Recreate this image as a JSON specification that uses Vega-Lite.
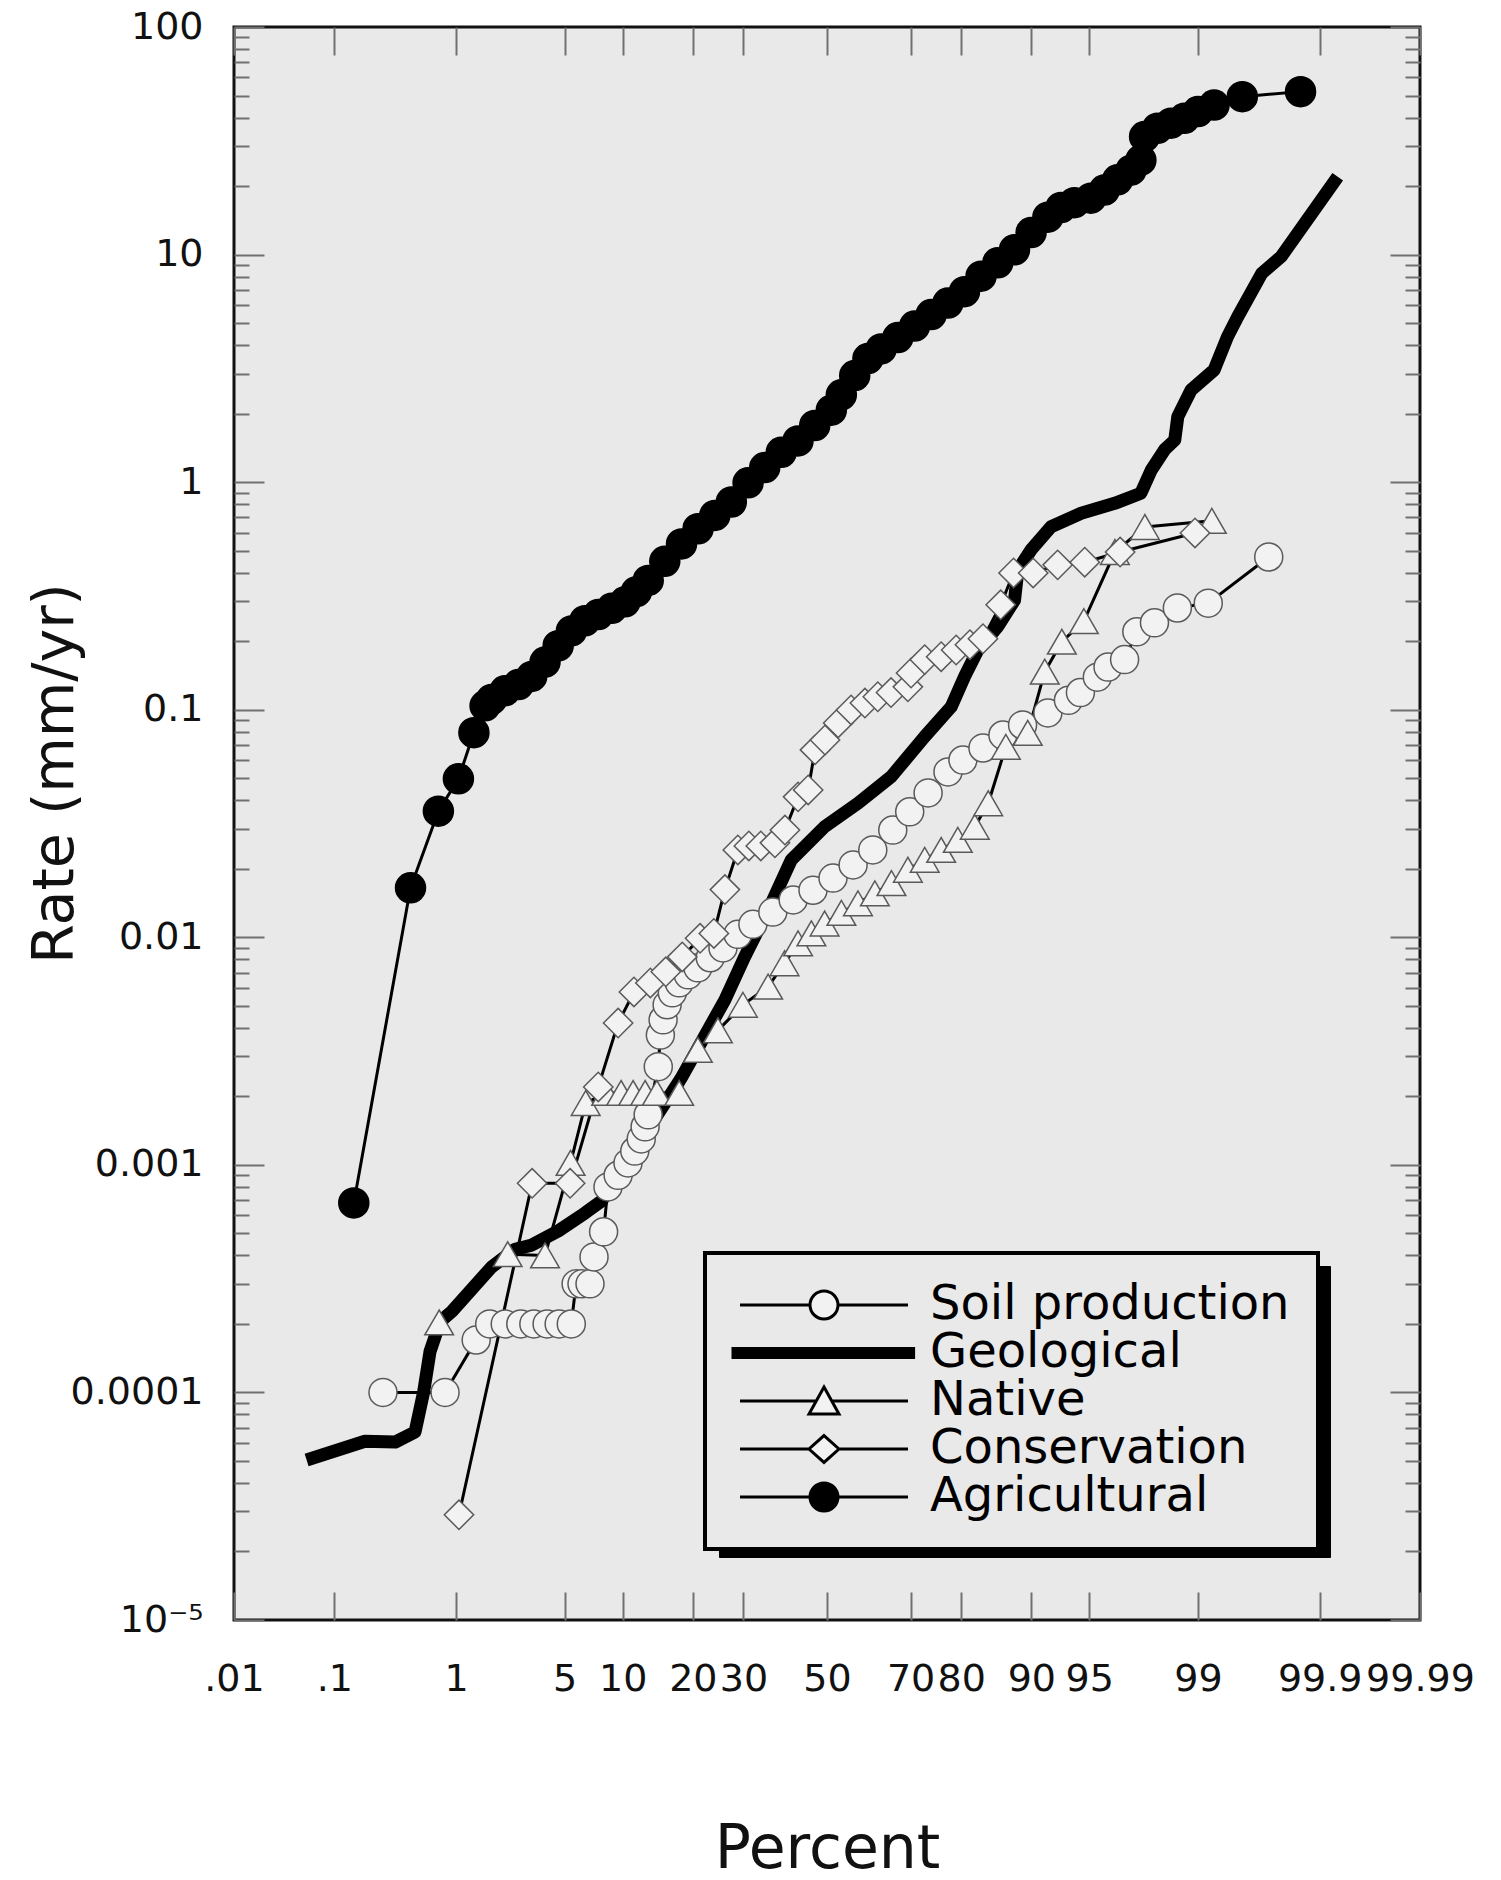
{
  "$schema": "https://vega.github.io/schema/vega-lite/v6.json",
  "width": 1186,
  "height": 1593,
  "autosize": {"type": "none"},
  "padding": {"left": 234, "top": 27, "right": 81, "bottom": 260},
  "background": "white",
  "config": {
    "view": {"fill": "#e9e9e9", "stroke": "#111111", "strokeWidth": 3},
    "font": "DejaVu Sans",
    "axis": {"grid": false, "domain": false, "labelFont": "DejaVu Sans", "titleFont": "DejaVu Sans", "labelColor": "#111111", "titleColor": "#111111", "titleFontWeight": "normal", "tickColor": "#707070", "tickWidth": 2}
  },
  "data": {
    "values": [
      {"series": "Agricultural", "percent": 0.15, "rate": 0.00068},
      {"series": "Agricultural", "percent": 0.45, "rate": 0.0165},
      {"series": "Agricultural", "percent": 0.74, "rate": 0.0358},
      {"series": "Agricultural", "percent": 1.04, "rate": 0.0497},
      {"series": "Agricultural", "percent": 1.34, "rate": 0.0793},
      {"series": "Agricultural", "percent": 1.6, "rate": 0.104},
      {"series": "Agricultural", "percent": 1.77, "rate": 0.111},
      {"series": "Agricultural", "percent": 2.17, "rate": 0.121},
      {"series": "Agricultural", "percent": 2.65, "rate": 0.129},
      {"series": "Agricultural", "percent": 3.2, "rate": 0.14},
      {"series": "Agricultural", "percent": 3.85, "rate": 0.162},
      {"series": "Agricultural", "percent": 4.59, "rate": 0.191},
      {"series": "Agricultural", "percent": 5.45, "rate": 0.222},
      {"series": "Agricultural", "percent": 6.45, "rate": 0.246},
      {"series": "Agricultural", "percent": 7.57, "rate": 0.262},
      {"series": "Agricultural", "percent": 8.85, "rate": 0.279},
      {"series": "Agricultural", "percent": 10.26, "rate": 0.298},
      {"series": "Agricultural", "percent": 11.6, "rate": 0.33},
      {"series": "Agricultural", "percent": 13.11, "rate": 0.37},
      {"series": "Agricultural", "percent": 15.45, "rate": 0.449},
      {"series": "Agricultural", "percent": 18.08, "rate": 0.535},
      {"series": "Agricultural", "percent": 20.94, "rate": 0.624},
      {"series": "Agricultural", "percent": 24.08, "rate": 0.714},
      {"series": "Agricultural", "percent": 27.43, "rate": 0.818},
      {"series": "Agricultural", "percent": 31.03, "rate": 0.993},
      {"series": "Agricultural", "percent": 34.8, "rate": 1.159},
      {"series": "Agricultural", "percent": 38.71, "rate": 1.352},
      {"series": "Agricultural", "percent": 42.78, "rate": 1.517},
      {"series": "Agricultural", "percent": 46.93, "rate": 1.774},
      {"series": "Agricultural", "percent": 51.08, "rate": 2.07},
      {"series": "Agricultural", "percent": 53.58, "rate": 2.42},
      {"series": "Agricultural", "percent": 56.9, "rate": 2.94},
      {"series": "Agricultural", "percent": 60.13, "rate": 3.49},
      {"series": "Agricultural", "percent": 63.29, "rate": 3.85},
      {"series": "Agricultural", "percent": 67.16, "rate": 4.32},
      {"series": "Agricultural", "percent": 70.86, "rate": 4.85},
      {"series": "Agricultural", "percent": 74.32, "rate": 5.45},
      {"series": "Agricultural", "percent": 77.58, "rate": 6.12},
      {"series": "Agricultural", "percent": 80.57, "rate": 6.87},
      {"series": "Agricultural", "percent": 83.3, "rate": 8.04},
      {"series": "Agricultural", "percent": 85.79, "rate": 9.2},
      {"series": "Agricultural", "percent": 88.02, "rate": 10.5},
      {"series": "Agricultural", "percent": 89.97, "rate": 12.5},
      {"series": "Agricultural", "percent": 91.7, "rate": 14.6},
      {"series": "Agricultural", "percent": 92.89, "rate": 16.1},
      {"series": "Agricultural", "percent": 93.96, "rate": 16.9},
      {"series": "Agricultural", "percent": 95.1, "rate": 17.7},
      {"series": "Agricultural", "percent": 95.9, "rate": 19.2},
      {"series": "Agricultural", "percent": 96.58, "rate": 21.3},
      {"series": "Agricultural", "percent": 97.17, "rate": 23.5},
      {"series": "Agricultural", "percent": 97.55, "rate": 26.0},
      {"series": "Agricultural", "percent": 97.68, "rate": 33.0},
      {"series": "Agricultural", "percent": 98.09, "rate": 35.9},
      {"series": "Agricultural", "percent": 98.45, "rate": 37.8},
      {"series": "Agricultural", "percent": 98.75, "rate": 39.7},
      {"series": "Agricultural", "percent": 99.0, "rate": 42.5},
      {"series": "Agricultural", "percent": 99.24, "rate": 45.4},
      {"series": "Agricultural", "percent": 99.54, "rate": 49.4},
      {"series": "Agricultural", "percent": 99.851, "rate": 52.0},

      {"series": "Geological", "percent": 0.055, "rate": 0.0000505},
      {"series": "Geological", "percent": 0.188, "rate": 0.000061},
      {"series": "Geological", "percent": 0.338, "rate": 0.0000605},
      {"series": "Geological", "percent": 0.489, "rate": 0.000067},
      {"series": "Geological", "percent": 0.57, "rate": 0.0001},
      {"series": "Geological", "percent": 0.639, "rate": 0.000151},
      {"series": "Geological", "percent": 0.764, "rate": 0.000205},
      {"series": "Geological", "percent": 0.933, "rate": 0.000227},
      {"series": "Geological", "percent": 1.766, "rate": 0.000355},
      {"series": "Geological", "percent": 2.52, "rate": 0.000426},
      {"series": "Geological", "percent": 3.204, "rate": 0.000444},
      {"series": "Geological", "percent": 4.59, "rate": 0.000512},
      {"series": "Geological", "percent": 6.45, "rate": 0.000614},
      {"series": "Geological", "percent": 7.87, "rate": 0.000694},
      {"series": "Geological", "percent": 18.0, "rate": 0.0024},
      {"series": "Geological", "percent": 26.1, "rate": 0.00531},
      {"series": "Geological", "percent": 30.3, "rate": 0.00822},
      {"series": "Geological", "percent": 36.37, "rate": 0.0141},
      {"series": "Geological", "percent": 41.15, "rate": 0.0219},
      {"series": "Geological", "percent": 49.4, "rate": 0.0306},
      {"series": "Geological", "percent": 57.7, "rate": 0.0388},
      {"series": "Geological", "percent": 65.65, "rate": 0.0508},
      {"series": "Geological", "percent": 72.99, "rate": 0.0762},
      {"series": "Geological", "percent": 78.2, "rate": 0.103},
      {"series": "Geological", "percent": 80.6, "rate": 0.14},
      {"series": "Geological", "percent": 82.79, "rate": 0.183},
      {"series": "Geological", "percent": 85.79, "rate": 0.232},
      {"series": "Geological", "percent": 88.02, "rate": 0.303},
      {"series": "Geological", "percent": 88.44, "rate": 0.411},
      {"series": "Geological", "percent": 89.97, "rate": 0.504},
      {"series": "Geological", "percent": 92.0, "rate": 0.637},
      {"series": "Geological", "percent": 94.45, "rate": 0.73},
      {"series": "Geological", "percent": 96.44, "rate": 0.807},
      {"series": "Geological", "percent": 97.55, "rate": 0.894},
      {"series": "Geological", "percent": 97.9, "rate": 1.13},
      {"series": "Geological", "percent": 98.29, "rate": 1.39},
      {"series": "Geological", "percent": 98.54, "rate": 1.53},
      {"series": "Geological", "percent": 98.61, "rate": 1.94},
      {"series": "Geological", "percent": 98.88, "rate": 2.54},
      {"series": "Geological", "percent": 99.24, "rate": 3.11},
      {"series": "Geological", "percent": 99.4, "rate": 4.36},
      {"series": "Geological", "percent": 99.5, "rate": 5.33},
      {"series": "Geological", "percent": 99.68, "rate": 8.27},
      {"series": "Geological", "percent": 99.78, "rate": 9.79},
      {"series": "Geological", "percent": 99.863, "rate": 13.7},
      {"series": "Geological", "percent": 99.932, "rate": 22.0},

      {"series": "Soil production", "percent": 0.268, "rate": 0.0001},
      {"series": "Soil production", "percent": 0.83, "rate": 0.0001},
      {"series": "Soil production", "percent": 1.39, "rate": 0.00017},
      {"series": "Soil production", "percent": 1.72, "rate": 0.0002},
      {"series": "Soil production", "percent": 2.18, "rate": 0.0002},
      {"series": "Soil production", "percent": 2.74, "rate": 0.0002},
      {"series": "Soil production", "percent": 3.3, "rate": 0.0002},
      {"series": "Soil production", "percent": 3.96, "rate": 0.0002},
      {"series": "Soil production", "percent": 4.65, "rate": 0.0002},
      {"series": "Soil production", "percent": 5.44, "rate": 0.0002},
      {"series": "Soil production", "percent": 5.78, "rate": 0.0003},
      {"series": "Soil production", "percent": 6.22, "rate": 0.0003},
      {"series": "Soil production", "percent": 6.86, "rate": 0.0003},
      {"series": "Soil production", "percent": 7.2, "rate": 0.000394},
      {"series": "Soil production", "percent": 8.06, "rate": 0.000508},
      {"series": "Soil production", "percent": 8.48, "rate": 0.0008},
      {"series": "Soil production", "percent": 9.51, "rate": 0.0009},
      {"series": "Soil production", "percent": 10.6, "rate": 0.00102},
      {"series": "Soil production", "percent": 11.4, "rate": 0.00115},
      {"series": "Soil production", "percent": 12.2, "rate": 0.0013},
      {"series": "Soil production", "percent": 12.7, "rate": 0.00147},
      {"series": "Soil production", "percent": 13.1, "rate": 0.00166},
      {"series": "Soil production", "percent": 14.5, "rate": 0.0027},
      {"series": "Soil production", "percent": 14.8, "rate": 0.00372},
      {"series": "Soil production", "percent": 15.2, "rate": 0.00434},
      {"series": "Soil production", "percent": 15.8, "rate": 0.00505},
      {"series": "Soil production", "percent": 16.6, "rate": 0.0057},
      {"series": "Soil production", "percent": 17.7, "rate": 0.00631},
      {"series": "Soil production", "percent": 19.2, "rate": 0.00684},
      {"series": "Soil production", "percent": 20.9, "rate": 0.00734},
      {"series": "Soil production", "percent": 23.2, "rate": 0.00813},
      {"series": "Soil production", "percent": 25.7, "rate": 0.00898},
      {"series": "Soil production", "percent": 28.8, "rate": 0.0103},
      {"series": "Soil production", "percent": 32.1, "rate": 0.0114},
      {"series": "Soil production", "percent": 36.7, "rate": 0.0129},
      {"series": "Soil production", "percent": 41.6, "rate": 0.0146},
      {"series": "Soil production", "percent": 46.5, "rate": 0.0161},
      {"series": "Soil production", "percent": 51.5, "rate": 0.0182},
      {"series": "Soil production", "percent": 56.5, "rate": 0.0208},
      {"series": "Soil production", "percent": 61.3, "rate": 0.0242},
      {"series": "Soil production", "percent": 66.0, "rate": 0.0296},
      {"series": "Soil production", "percent": 69.8, "rate": 0.0356},
      {"series": "Soil production", "percent": 73.7, "rate": 0.0431},
      {"series": "Soil production", "percent": 77.6, "rate": 0.0533},
      {"series": "Soil production", "percent": 80.3, "rate": 0.0601},
      {"series": "Soil production", "percent": 83.6, "rate": 0.0679},
      {"series": "Soil production", "percent": 86.5, "rate": 0.0774},
      {"series": "Soil production", "percent": 89.0, "rate": 0.0857},
      {"series": "Soil production", "percent": 91.7, "rate": 0.0968},
      {"series": "Soil production", "percent": 93.5, "rate": 0.11},
      {"series": "Soil production", "percent": 94.4, "rate": 0.119},
      {"series": "Soil production", "percent": 95.5, "rate": 0.139},
      {"series": "Soil production", "percent": 96.1, "rate": 0.154},
      {"series": "Soil production", "percent": 96.9, "rate": 0.166},
      {"series": "Soil production", "percent": 97.4, "rate": 0.22},
      {"series": "Soil production", "percent": 98.0, "rate": 0.241},
      {"series": "Soil production", "percent": 98.6, "rate": 0.28},
      {"series": "Soil production", "percent": 99.16, "rate": 0.294},
      {"series": "Soil production", "percent": 99.72, "rate": 0.469},

      {"series": "Native", "percent": 0.75, "rate": 0.000203},
      {"series": "Native", "percent": 2.26, "rate": 0.000405},
      {"series": "Native", "percent": 3.85, "rate": 0.0004},
      {"series": "Native", "percent": 5.39, "rate": 0.00102},
      {"series": "Native", "percent": 6.51, "rate": 0.00187},
      {"series": "Native", "percent": 8.3, "rate": 0.00207},
      {"series": "Native", "percent": 9.83, "rate": 0.00207},
      {"series": "Native", "percent": 11.2, "rate": 0.00207},
      {"series": "Native", "percent": 12.7, "rate": 0.00207},
      {"series": "Native", "percent": 14.3, "rate": 0.00207},
      {"series": "Native", "percent": 17.7, "rate": 0.00207},
      {"series": "Native", "percent": 20.9, "rate": 0.0032},
      {"series": "Native", "percent": 24.7, "rate": 0.0039},
      {"series": "Native", "percent": 29.9, "rate": 0.00505},
      {"series": "Native", "percent": 35.6, "rate": 0.00607},
      {"series": "Native", "percent": 39.5, "rate": 0.00769},
      {"series": "Native", "percent": 42.8, "rate": 0.0094},
      {"series": "Native", "percent": 46.1, "rate": 0.0104},
      {"series": "Native", "percent": 49.4, "rate": 0.0115},
      {"series": "Native", "percent": 53.6, "rate": 0.0128},
      {"series": "Native", "percent": 57.7, "rate": 0.0141},
      {"series": "Native", "percent": 61.8, "rate": 0.0156},
      {"series": "Native", "percent": 65.7, "rate": 0.0173},
      {"series": "Native", "percent": 69.4, "rate": 0.0198},
      {"series": "Native", "percent": 73.0, "rate": 0.0219},
      {"series": "Native", "percent": 76.3, "rate": 0.0242},
      {"series": "Native", "percent": 79.4, "rate": 0.0268},
      {"series": "Native", "percent": 82.3, "rate": 0.0306},
      {"series": "Native", "percent": 84.4, "rate": 0.0388},
      {"series": "Native", "percent": 86.9, "rate": 0.0687},
      {"series": "Native", "percent": 89.6, "rate": 0.0791},
      {"series": "Native", "percent": 91.4, "rate": 0.147},
      {"series": "Native", "percent": 92.96, "rate": 0.199},
      {"series": "Native", "percent": 94.64, "rate": 0.245},
      {"series": "Native", "percent": 96.45, "rate": 0.493},
      {"series": "Native", "percent": 97.69, "rate": 0.635},
      {"series": "Native", "percent": 99.21, "rate": 0.676},

      {"series": "Conservation", "percent": 1.05, "rate": 0.000029},
      {"series": "Conservation", "percent": 3.22, "rate": 0.00083},
      {"series": "Conservation", "percent": 5.36, "rate": 0.00083},
      {"series": "Conservation", "percent": 7.57, "rate": 0.0022},
      {"series": "Conservation", "percent": 9.51, "rate": 0.0042},
      {"series": "Conservation", "percent": 11.3, "rate": 0.00575},
      {"series": "Conservation", "percent": 13.4, "rate": 0.0063},
      {"series": "Conservation", "percent": 15.6, "rate": 0.00705},
      {"series": "Conservation", "percent": 18.2, "rate": 0.0082},
      {"series": "Conservation", "percent": 21.3, "rate": 0.0099},
      {"series": "Conservation", "percent": 23.9, "rate": 0.0104},
      {"series": "Conservation", "percent": 26.1, "rate": 0.0162},
      {"series": "Conservation", "percent": 28.8, "rate": 0.0242},
      {"series": "Conservation", "percent": 31.2, "rate": 0.0252},
      {"series": "Conservation", "percent": 33.9, "rate": 0.0252},
      {"series": "Conservation", "percent": 37.2, "rate": 0.026},
      {"series": "Conservation", "percent": 39.6, "rate": 0.0296},
      {"series": "Conservation", "percent": 42.8, "rate": 0.0414},
      {"series": "Conservation", "percent": 45.3, "rate": 0.0444},
      {"series": "Conservation", "percent": 47.0, "rate": 0.0666},
      {"series": "Conservation", "percent": 49.5, "rate": 0.0736},
      {"series": "Conservation", "percent": 52.8, "rate": 0.0875},
      {"series": "Conservation", "percent": 56.0, "rate": 0.0998},
      {"series": "Conservation", "percent": 59.4, "rate": 0.107},
      {"series": "Conservation", "percent": 62.5, "rate": 0.114},
      {"series": "Conservation", "percent": 65.6, "rate": 0.119},
      {"series": "Conservation", "percent": 69.4, "rate": 0.126},
      {"series": "Conservation", "percent": 70.1, "rate": 0.145},
      {"series": "Conservation", "percent": 73.0, "rate": 0.166},
      {"series": "Conservation", "percent": 76.3, "rate": 0.171},
      {"series": "Conservation", "percent": 79.1, "rate": 0.183},
      {"series": "Conservation", "percent": 81.5, "rate": 0.193},
      {"series": "Conservation", "percent": 83.6, "rate": 0.205},
      {"series": "Conservation", "percent": 86.2, "rate": 0.289},
      {"series": "Conservation", "percent": 87.9, "rate": 0.399},
      {"series": "Conservation", "percent": 90.2, "rate": 0.399},
      {"series": "Conservation", "percent": 92.6, "rate": 0.433},
      {"series": "Conservation", "percent": 94.7, "rate": 0.445},
      {"series": "Conservation", "percent": 96.7, "rate": 0.493},
      {"series": "Conservation", "percent": 98.95, "rate": 0.598}
    ]
  },
  "transform": [{"calculate": "quantileNormal(datum.percent / 100)", "as": "z"}],
  "layer": [
    {
      "transform": [{"filter": "datum.series === 'Geological'"}],
      "mark": {"type": "line", "stroke": "black", "strokeWidth": 13, "strokeJoin": "round", "strokeCap": "butt"},
      "encoding": {
        "x": {"field": "z", "type": "quantitative", "scale": {"domain": [-3.719, 3.719], "nice": false, "zero": false},
          "axis": {"orient": "bottom", "values": [-3.719, -3.0902, -2.3263, -1.6449, -1.2816, -0.8416, -0.5244, 0, 0.5244, 0.8416, 1.2816, 1.6449, 2.3263, 3.0902, 3.719],
            "labelExpr": "datum.value < -3.5 ? '.01' : datum.value < -3 ? '.1' : datum.value < -2 ? '1' : datum.value < -1.5 ? '5' : datum.value < -1 ? '10' : datum.value < -0.7 ? '20' : datum.value < -0.3 ? '30' : datum.value < 0.3 ? '50' : datum.value < 0.7 ? '70' : datum.value < 1 ? '80' : datum.value < 1.5 ? '90' : datum.value < 2 ? '95' : datum.value < 3 ? '99' : datum.value < 3.5 ? '99.9' : '99.99'",
            "ticks": false, "labelFontSize": 38, "labelPadding": 40, "labelOverlap": false, "labelFlush": false, "labelBound": false,
            "title": "Percent", "titleFontSize": 60, "titleY": 247, "titleBaseline": "alphabetic"}},
        "y": {"field": "rate", "type": "quantitative", "scale": {"type": "log", "domain": [0.00001, 100], "nice": false},
          "axis": {"orient": "left", "values": [0.00001, 0.0001, 0.001, 0.01, 0.1, 1, 10, 100],
            "labelExpr": "datum.value < 0.00005 ? '10⁻⁵' : toString(datum.value)",
            "ticks": false, "labelFontSize": 38, "labelPadding": 31, "labelOverlap": false, "labelFlush": false, "labelBound": false,
            "title": "Rate (mm/yr)", "titleFontSize": 57, "titleAngle": -90, "titleX": -179, "titleY": 746, "titleBaseline": "middle", "titleAlign": "center"}}
      }
    },
    {
      "transform": [{"filter": "datum.series !== 'Geological'"}],
      "mark": {"type": "line", "stroke": "black", "strokeWidth": 3},
      "encoding": {
        "detail": {"field": "series"},
        "x": {"field": "z", "type": "quantitative",
          "axis": {"orient": "bottom", "values": [-3.719, -3.0902, -2.3263, -1.6449, -1.2816, -0.8416, -0.5244, 0, 0.5244, 0.8416, 1.2816, 1.6449, 2.3263, 3.0902, 3.719], "labels": false, "tickSize": -28, "title": null}},
        "y": {"field": "rate", "type": "quantitative",
          "axis": {"orient": "left", "values": [0.00001, 0.0001, 0.001, 0.01, 0.1, 1, 10, 100], "labels": false, "tickSize": -30, "title": null}}
      }
    },
    {
      "transform": [{"filter": "datum.series !== 'Geological'"}],
      "mark": {"type": "point", "filled": true, "opacity": 1, "strokeWidth": 1.5},
      "encoding": {
        "x": {"field": "z", "type": "quantitative",
          "axis": {"orient": "top", "values": [-3.719, -3.0902, -2.3263, -1.6449, -1.2816, -0.8416, -0.5244, 0, 0.5244, 0.8416, 1.2816, 1.6449, 2.3263, 3.0902, 3.719], "labels": false, "tickSize": -28, "title": null}},
        "y": {"field": "rate", "type": "quantitative",
          "axis": {"orient": "left", "values": [0.00002, 0.00003, 0.00004, 0.00005, 0.00006, 0.00007, 0.00008, 0.00009, 0.0002, 0.0003, 0.0004, 0.0005, 0.0006, 0.0007, 0.0008, 0.0009, 0.002, 0.003, 0.004, 0.005, 0.006, 0.007, 0.008, 0.009, 0.02, 0.03, 0.04, 0.05, 0.06, 0.07, 0.08, 0.09, 0.2, 0.3, 0.4, 0.5, 0.6, 0.7, 0.8, 0.9, 2, 3, 4, 5, 6, 7, 8, 9, 20, 30, 40, 50, 60, 70, 80, 90], "labels": false, "tickSize": -15, "title": null}},
        "shape": {"field": "series", "type": "nominal", "scale": {"domain": ["Soil production", "Native", "Conservation", "Agricultural"], "range": ["circle", "triangle-up", "diamond", "circle"]}, "legend": null},
        "fill": {"field": "series", "type": "nominal", "scale": {"domain": ["Soil production", "Native", "Conservation", "Agricultural"], "range": ["#f2f2f2", "#f2f2f2", "#f2f2f2", "#000000"]}, "legend": null},
        "stroke": {"field": "series", "type": "nominal", "scale": {"domain": ["Soil production", "Native", "Conservation", "Agricultural"], "range": ["#5a5a5a", "#5a5a5a", "#5a5a5a", "#000000"]}, "legend": null},
        "size": {"field": "series", "type": "nominal", "scale": {"domain": ["Soil production", "Native", "Conservation", "Agricultural"], "range": [784, 900, 900, 950]}, "legend": null}
      }
    },
    {
      "mark": {"type": "point", "opacity": 0},
      "encoding": {
        "x": {"field": "z", "type": "quantitative", "axis": null},
        "y": {"field": "rate", "type": "quantitative",
          "axis": {"orient": "right", "values": [0.00001, 0.0001, 0.001, 0.01, 0.1, 1, 10, 100], "labels": false, "tickSize": -30, "title": null}},
        "shape": {"field": "series", "type": "nominal", "scale": {"domain": ["Soil production", "Geological", "Native", "Conservation", "Agricultural"], "range": ["square", "square", "square", "square", "square"]},
          "legend": {"orient": "none", "legendX": 485, "legendY": 1239, "title": null, "padding": 28, "fillColor": "#000000", "strokeColor": "#000000",
            "symbolSize": 2025, "symbolStrokeWidth": 3, "symbolOpacity": 0, "symbolOffset": 0, "labelFontSize": 1, "labelFont": "DejaVu Sans", "labelColor": "transparent", "labelOffset": 499, "labelLimit": 1000, "rowPadding": 0,
            "encode": {"legend": {"update": {"strokeWidth": {"value": 4}}}, "symbols": {"update": {"opacity": {"value": 0}}}, "labels": {"update": {"opacity": {"value": 0}, "text": {"value": ""}}}}}}
      }
    },
    {
      "mark": {"type": "point", "opacity": 0, "filled": true},
      "encoding": {
        "x": {"field": "z", "type": "quantitative", "axis": null},
        "y": {"field": "rate", "type": "quantitative",
          "axis": {"orient": "right", "values": [0.00002, 0.00003, 0.00004, 0.00005, 0.00006, 0.00007, 0.00008, 0.00009, 0.0002, 0.0003, 0.0004, 0.0005, 0.0006, 0.0007, 0.0008, 0.0009, 0.002, 0.003, 0.004, 0.005, 0.006, 0.007, 0.008, 0.009, 0.02, 0.03, 0.04, 0.05, 0.06, 0.07, 0.08, 0.09, 0.2, 0.3, 0.4, 0.5, 0.6, 0.7, 0.8, 0.9, 2, 3, 4, 5, 6, 7, 8, 9, 20, 30, 40, 50, 60, 70, 80, 90], "labels": false, "tickSize": -15, "title": null}},
        "shape": {"field": "series", "type": "nominal",
          "scale": {"domain": ["Soil production", "Geological", "Native", "Conservation", "Agricultural"],
            "range": ["M-1,0H4M6,0H11M4,0A1,1 0 1,0 6,0A1,1 0 1,0 4,0Z", "M-1.5,-0.32H11.4V0.32H-1.5Z", "M-1,0H4.45M5.55,0H11M5,-1L6.07,0.93L3.93,0.93Z", "M-1,0H3.93M6.07,0H11M5,-0.96L6.07,0L5,0.96L3.93,0Z", "M-1,0H4M6,0H11M4,0A1,1 0 1,0 6,0A1,1 0 1,0 4,0Z"]},
          "legend": {"orient": "none", "legendX": 471, "legendY": 1226, "title": null, "padding": 28, "fillColor": "#e9e9e9", "strokeColor": "#000000",
            "symbolSize": 784, "symbolStrokeWidth": 3, "symbolStrokeColor": "#000000", "symbolOpacity": 1, "symbolOffset": -3, "labelFontSize": 48, "labelFont": "DejaVu Sans", "labelColor": "#000000", "labelOffset": 152, "labelLimit": 1000, "rowPadding": 0,
            "encode": {"legend": {"update": {"strokeWidth": {"value": 4}}}, "symbols": {"update": {"opacity": {"value": 1}, "stroke": {"value": "#000000"}, "strokeWidth": {"value": 3}}}}}},
        "fill": {"field": "series", "type": "nominal",
          "scale": {"domain": ["Soil production", "Geological", "Native", "Conservation", "Agricultural"], "range": ["#f2f2f2", "#000000", "#f2f2f2", "#f2f2f2", "#000000"]},
          "legend": {"orient": "none", "legendX": 471, "legendY": 1226, "title": null, "padding": 28, "fillColor": "#e9e9e9", "strokeColor": "#000000",
            "symbolSize": 784, "symbolStrokeWidth": 3, "symbolStrokeColor": "#000000", "symbolOpacity": 1, "symbolOffset": -3, "labelFontSize": 48, "labelFont": "DejaVu Sans", "labelColor": "#000000", "labelOffset": 152, "labelLimit": 1000, "rowPadding": 0,
            "encode": {"legend": {"update": {"strokeWidth": {"value": 4}}}, "symbols": {"update": {"opacity": {"value": 1}, "stroke": {"value": "#000000"}, "strokeWidth": {"value": 3}}}}}}
      }
    }
  ],
  "resolve": {
    "scale": {"shape": "independent", "fill": "independent", "size": "independent", "stroke": "independent"},
    "axis": {"x": "independent", "y": "independent"},
    "legend": {"shape": "independent", "fill": "independent"}
  }
}
